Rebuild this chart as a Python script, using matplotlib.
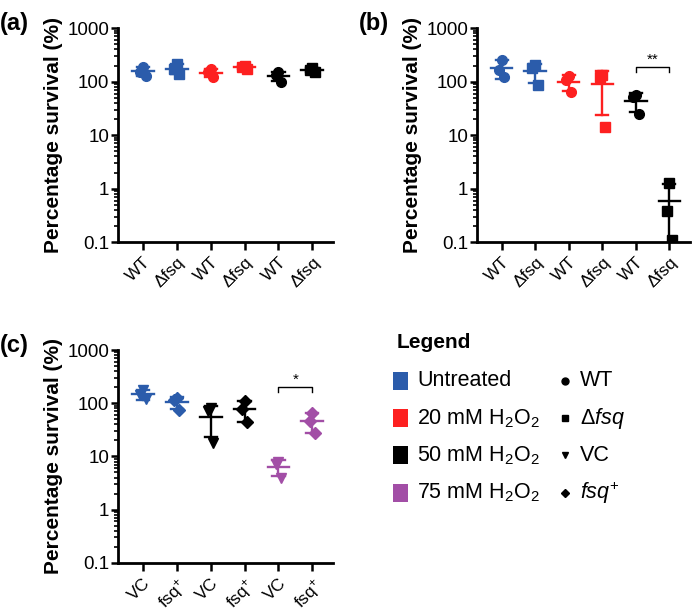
import matplotlib
matplotlib.use("Agg")
import matplotlib.pyplot as plt
import numpy as np
from matplotlib.patches import Rectangle
from matplotlib.ticker import LogLocator, FixedFormatter, FixedLocator

plt.rcParams['font.family'] = ['Liberation Sans', 'DejaVu Sans']
plt.rcParams['mathtext.fontset'] = 'custom'
plt.rcParams['mathtext.rm'] = 'Liberation Sans'
plt.rcParams['mathtext.it'] = 'Liberation Sans:italic'
plt.rcParams['mathtext.bf'] = 'Liberation Sans:bold'

BLUE = '#2b5cab'
RED = '#fd2020'
BLACK = '#000000'
PURPLE = '#a24ea6'

# data: three replicates per group (percentage survival)
labels_ab = ['WT', 'Δfsq', 'WT', 'Δfsq', 'WT', 'Δfsq']
labels_c = ['VC', 'fsq$^{+}$', 'VC', 'fsq$^{+}$', 'VC', 'fsq$^{+}$']

colors_a = [BLUE, BLUE, RED, RED, BLACK, BLACK]
markers_a = ['o', 's', 'o', 's', 'o', 's']
vals_a = [[185, 155, 130], [215, 170, 140], [175, 150, 120],
          [200, 185, 170], [150, 135, 100], [180, 165, 155]]

colors_b = [BLUE, BLUE, RED, RED, BLACK, BLACK]
markers_b = ['o', 's', 'o', 's', 'o', 's']
vals_b = [[255, 166, 120], [205, 178, 87], [128, 108, 65],
          [133, 124, 14], [56, 52, 25], [1.3, 0.39, 0.11]]

colors_c = [BLUE, BLUE, BLACK, BLACK, PURPLE, PURPLE]
markers_c = ['v', 'D', 'v', 'D', 'v', 'D']
vals_c = [[178, 143, 118], [125, 116, 75], [80, 70, 18],
          [108, 77, 45], [7.7, 7.3, 3.9], [65, 47, 27]]

jitter = [0.0, -0.08, 0.08]

fig = plt.figure(figsize=(6.93, 6.13), dpi=100)


def panel(rect, vals, colors, markers, labels, letter, sig=None):
    ax = fig.add_axes(rect)
    for i, (v, c, m) in enumerate(zip(vals, colors, markers)):
        v = np.array(v, dtype=float)
        mean = v.mean()
        sd = v.std(ddof=1)
        ms = 7 if m != 'D' else 6
        for j, y in enumerate(v):
            ax.plot(i + jitter[j], y, marker=m, color=c, ms=ms, ls='none', zorder=3)
        lo = max(mean - sd, 0.1)
        hi = mean + sd
        ax.plot([i, i], [lo, hi], color=c, lw=1.7, zorder=2, clip_on=False)
        ax.plot([i - 0.18, i + 0.18], [hi, hi], color=c, lw=1.7, zorder=2)
        if mean - sd > 0.1:
            ax.plot([i - 0.18, i + 0.18], [lo, lo], color=c, lw=1.7, zorder=2)
        ax.plot([i - 0.32, i + 0.32], [mean, mean], color=c, lw=1.7, zorder=2)
    ax.set_yscale('log')
    ax.set_ylim(0.1, 1000)
    ax.set_xlim(-0.74, 5.62)
    ax.yaxis.set_major_locator(FixedLocator([0.1, 1, 10, 100, 1000]))
    ax.yaxis.set_major_formatter(FixedFormatter(['0.1', '1', '10', '100', '1000']))
    ax.yaxis.set_minor_locator(LogLocator(base=10, subs=np.arange(2, 10)))
    ax.set_xticks(range(len(labels)))
    ax.set_xticklabels(labels, rotation=45, ha='right', rotation_mode='anchor', fontsize=12.5)
    ax.tick_params(axis='y', labelsize=13.5, width=1.8, length=5, pad=1)
    ax.tick_params(axis='y', which='minor', width=1.2, length=3)
    ax.tick_params(axis='x', width=1.8, length=6, pad=3)
    for s in ['top', 'right']:
        ax.spines[s].set_visible(False)
    for s in ['left', 'bottom']:
        ax.spines[s].set_linewidth(2)
    ax.set_ylabel('Percentage survival (%)', fontsize=15, fontweight='bold', labelpad=3)
    fig.text(rect[0] - 0.17, rect[1] + rect[3] + 0.008, letter, fontsize=17,
             fontweight='bold', ha='left', va='center')
    if sig is not None:
        x0, x1, y, txt = sig
        ax.plot([x0, x0, x1, x1], [y * 0.8, y, y, y * 0.8], color='black', lw=1)
        ax.text((x0 + x1) / 2, y * 1.0, txt, ha='center', va='bottom', fontsize=11)
    return ax


panel([0.170, 0.605, 0.311, 0.349], vals_a, colors_a, markers_a, labels_ab, '(a)')
panel([0.688, 0.605, 0.308, 0.349], vals_b, colors_b, markers_b, labels_ab, '(b)',
      sig=(4, 5, 190, '**'))
panel([0.170, 0.082, 0.311, 0.347], vals_c, colors_c, markers_c, labels_c, '(c)',
      sig=(4, 5, 200, '*'))

# legend, drawn in pixel coordinates of an overlay axes
treat_labels = ['Untreated', '20 mM H$_2$O$_2$', '50 mM H$_2$O$_2$', '75 mM H$_2$O$_2$']
treat_colors = [BLUE, RED, BLACK, PURPLE]
geno_labels = ['WT', 'Δ$\\it{fsq}$', 'VC', '$\\it{fsq}^{+}$']
geno_markers = ['o', 's', 'v', 'D']

lg = fig.add_axes([0, 0, 1, 1])
lg.set_xlim(0, 693)
lg.set_ylim(613, 0)
lg.axis('off')
lg.text(397, 343, 'Legend', fontsize=15, fontweight='bold', ha='left', va='center')
for i in range(4):
    y = 381 + 37.2 * i
    lg.add_patch(Rectangle((393, y - 9), 15, 18, color=treat_colors[i], lw=0))
    lg.text(417, y, treat_labels[i], fontsize=15.5, ha='left', va='center')
    lg.plot(565, y, marker=geno_markers[i], color='black', ms=5 if geno_markers[i] != 'D' else 4)
    lg.text(580, y, geno_labels[i], fontsize=15.5, ha='left', va='center')

fig.savefig('out.png', dpi=100)
